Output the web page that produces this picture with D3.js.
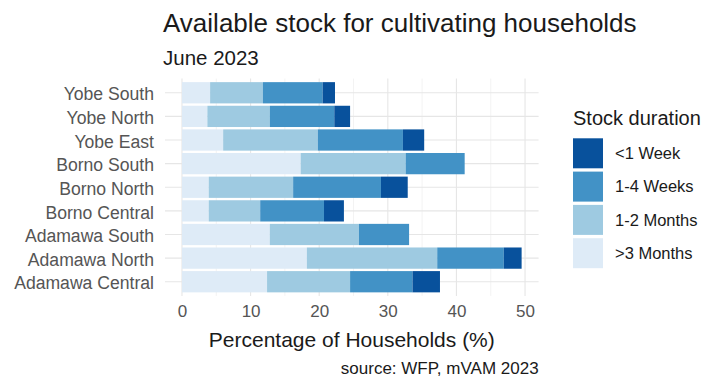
<!DOCTYPE html>
<html>
<head>
<meta charset="utf-8">
<script src="https://cdn.jsdelivr.net/npm/d3@7"></script>
<style>
  body { margin: 0; background: #fff; }
  text { font-family: "Liberation Sans", Arial, sans-serif; }
</style>
</head>
<body>
<script>
// regions, top to bottom as drawn
var regions = ["Yobe South", "Yobe North", "Yobe East", "Borno South", "Borno North",
  "Borno Central", "Adamawa South", "Adamawa North", "Adamawa Central"];

// share of households (%) per stock duration
var over3Months = [4.1, 3.7, 6.0, 17.3, 3.9, 3.9, 12.8, 18.2, 12.4];
var oneTo2Months = [7.7, 9.1, 13.8, 15.3, 12.3, 7.5, 13.0, 19.0, 12.1];
var oneTo4Weeks = [8.7, 9.4, 12.4, 8.6, 12.8, 9.3, 7.3, 9.7, 9.1];
var underOneWeek = [1.8, 2.3, 3.1, 0, 3.9, 2.9, 0, 2.6, 4.0];

var durations = [">3 Months", "1-2 Months", "1-4 Weeks", "<1 Week"];
var legendOrder = ["<1 Week", "1-4 Weeks", "1-2 Months", ">3 Months"];
var xTicks = [0, 10, 20, 30, 40, 50];
var xMinor = [5, 15, 25, 35, 45];

var colors = ["#deebf7", "#9ecae1", "#4292c6", "#08519c"];

var rows = regions.map(function(r, i) {
  return { region: r, ">3 Months": over3Months[i], "1-2 Months": oneTo2Months[i],
    "1-4 Weeks": oneTo4Weeks[i], "<1 Week": underOneWeek[i] };
});

var stacked = d3.stack().keys(durations)(rows);

var width = 706, height = 378;
var panel = { left: 165, right: 538.6, top: 78.6, bottom: 295.9 };

var svg = d3.select("body").append("svg")
  .attr("width", width)
  .attr("height", height);

var maxTotal = d3.max(rows, function(d) { return d3.sum(durations, function(k) { return d[k]; }); });
var pad = maxTotal * 0.05;

var x = d3.scaleLinear()
  .domain([-pad, maxTotal + pad])
  .range([panel.left, panel.right]);

var y = d3.scaleBand()
  .domain(regions)
  .range([panel.top, panel.bottom])
  .paddingInner(0.1)
  .paddingOuter(0.15);

var color = d3.scaleOrdinal().domain(durations).range(colors);

// grid
svg.append("g").selectAll("line.minor")
  .data(xMinor)
  .enter().append("line")
  .attr("x1", function(d) { return x(d); })
  .attr("x2", function(d) { return x(d); })
  .attr("y1", panel.top).attr("y2", panel.bottom)
  .attr("stroke", "#ebebeb").attr("stroke-width", 0.6);

svg.append("g").selectAll("line.major")
  .data(xTicks)
  .enter().append("line")
  .attr("x1", function(d) { return x(d); })
  .attr("x2", function(d) { return x(d); })
  .attr("y1", panel.top).attr("y2", panel.bottom)
  .attr("stroke", "#e6e6e6").attr("stroke-width", 1.1);

svg.append("g").selectAll("line")
  .data(regions)
  .enter().append("line")
  .attr("x1", panel.left).attr("x2", panel.right)
  .attr("y1", function(d) { return y(d) + y.bandwidth() / 2; })
  .attr("y2", function(d) { return y(d) + y.bandwidth() / 2; })
  .attr("stroke", "#e6e6e6").attr("stroke-width", 1.1);

// bars
svg.append("g").selectAll("g")
  .data(stacked)
  .enter().append("g")
  .attr("fill", function(d) { return color(d.key); })
  .selectAll("rect")
  .data(function(d) { return d; })
  .enter().append("rect")
  .attr("x", function(d) { return x(d[0]); })
  .attr("width", function(d) { return x(d[1]) - x(d[0]); })
  .attr("y", function(d) { return y(d.data.region); })
  .attr("height", y.bandwidth());

// axes (no lines, only labels)
var xAxis = svg.append("g")
  .attr("transform", "translate(0," + (panel.bottom + 3) + ")")
  .call(d3.axisBottom(x).tickValues(xTicks).tickSize(0).tickPadding(6));
xAxis.select(".domain").remove();
xAxis.selectAll("text")
  .attr("fill", "#555555")
  .style("font-size", "17px")
  .style("font-family", "Liberation Sans, Arial, sans-serif");

var yAxis = svg.append("g")
  .attr("transform", "translate(" + (panel.left - 11) + ",2)")
  .call(d3.axisLeft(y).tickSize(0).tickPadding(0));
yAxis.select(".domain").remove();
yAxis.selectAll("text")
  .attr("fill", "#555555")
  .style("font-size", "17.6px")
  .style("font-family", "Liberation Sans, Arial, sans-serif");

// titles
svg.append("text")
  .attr("x", 163).attr("y", 32)
  .attr("fill", "#1a1a1a")
  .style("font-size", "26px")
  .text("Available stock for cultivating households");

svg.append("text")
  .attr("x", 163).attr("y", 65)
  .attr("fill", "#1a1a1a")
  .style("font-size", "20.5px")
  .text("June 2023");

svg.append("text")
  .attr("x", (panel.left + panel.right) / 2).attr("y", 347)
  .attr("text-anchor", "middle")
  .attr("fill", "#1a1a1a")
  .style("font-size", "21px")
  .text("Percentage of Households (%)");

svg.append("text")
  .attr("x", panel.right).attr("y", 374)
  .attr("text-anchor", "end")
  .attr("fill", "#1a1a1a")
  .style("font-size", "17px")
  .text("source: WFP, mVAM 2023");

// legend
var legend = svg.append("g").attr("transform", "translate(573,0)");
legend.append("text")
  .attr("x", 0).attr("y", 125)
  .attr("fill", "#1a1a1a")
  .style("font-size", "20px")
  .text("Stock duration");

var keys = legend.selectAll("g.key")
  .data(legendOrder)
  .enter().append("g")
  .attr("transform", function(d, i) { return "translate(0," + (138.3 + i * 33.3) + ")"; });

keys.append("rect")
  .attr("width", 30).attr("height", 30)
  .attr("fill", function(d) { return color(d); });

keys.append("text")
  .attr("x", 42).attr("y", 15)
  .attr("dy", "0.35em")
  .attr("fill", "#1a1a1a")
  .style("font-size", "16.5px")
  .text(function(d) { return d; });
</script>
</body>
</html>
